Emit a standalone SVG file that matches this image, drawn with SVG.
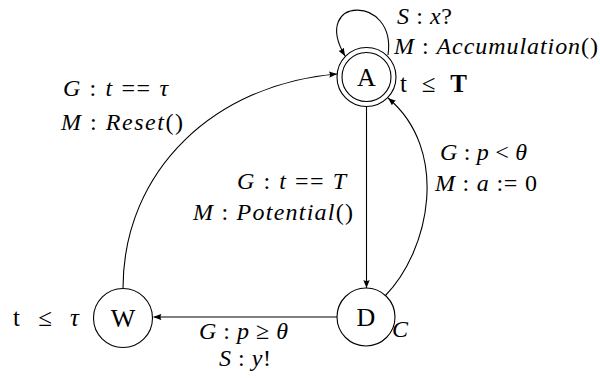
<svg xmlns="http://www.w3.org/2000/svg" width="600" height="378" viewBox="0 0 600 378">
<style>
.bg{fill:#ffffff}
.node{fill:#ffffff;stroke:#000000;stroke-width:1.1}
.edge{fill:none;stroke:#000000;stroke-width:1.1}
.lbl{font-family:"Liberation Serif",serif;font-size:24px;font-style:italic;fill:#000000}
.u{font-style:normal}
.r{font-family:"Liberation Serif",serif;font-size:25px;font-style:normal;fill:#000000}
.nl{font-family:"Liberation Serif",serif;font-size:26px;fill:#000000;text-anchor:middle}
</style>
<defs>
<marker id="arr" viewBox="0 0 10 8" refX="10" refY="4" markerWidth="8" markerHeight="6.4" markerUnits="userSpaceOnUse" orient="auto">
<path d="M0,0 L10,4 L0,8 Q2.5,4 0,0 Z" fill="#000000"/>
</marker>
</defs>
<rect class="bg" x="0" y="0" width="600" height="378"/>
<g id="connectors">
<path id="loopA" class="edge" d="M388,55 C397,-6 310,-4 345,56" marker-end="url(#arr)"/>
<path id="AtoD" class="edge" d="M366.5,106.5 L366.5,288" marker-end="url(#arr)"/>
<path id="DtoA" class="edge" d="M385,296 C430,250 450,150 388,98" marker-end="url(#arr)"/>
<path id="DtoW" class="edge" d="M337,317 L153.5,317" marker-end="url(#arr)"/>
<path id="WtoA" class="edge" d="M123,288.5 C123,170 215,84 337,74" marker-end="url(#arr)"/>
</g>
<g id="node-A">
<circle class="node" cx="366.5" cy="77" r="29.5"/>
<circle class="node" cx="366.5" cy="77" r="24.5"/>
<text class="nl" x="366.5" y="86">A</text>
</g>
<g id="node-D">
<circle class="node" cx="366" cy="317" r="29"/>
<text class="nl" x="366" y="326">D</text>
</g>
<g id="node-W">
<circle class="node" cx="123" cy="318" r="29.5"/>
<text class="nl" x="123" y="327">W</text>
</g>
<g id="labels">
<text class="lbl" x="397" y="24" textLength="55" lengthAdjust="spacing">S<tspan class="u"> : </tspan>x<tspan class="u">?</tspan></text>
<text class="lbl" x="394" y="54" textLength="204" lengthAdjust="spacing">M<tspan class="u"> : </tspan>Accumulation<tspan class="u">()</tspan></text>
<text class="r" x="400" y="92" textLength="67" lengthAdjust="spacing">t ≤ <tspan font-weight="bold">T</tspan></text>
<text class="lbl" x="63" y="96" textLength="105" lengthAdjust="spacing">G<tspan class="u"> : </tspan>t<tspan class="u"> == </tspan>τ</text>
<text class="lbl" x="61" y="130" textLength="122" lengthAdjust="spacing">M<tspan class="u"> : </tspan>Reset<tspan class="u">()</tspan></text>
<text class="lbl" x="237" y="189" textLength="109" lengthAdjust="spacing">G<tspan class="u"> : </tspan>t<tspan class="u"> == </tspan>T</text>
<text class="lbl" x="193" y="220" textLength="160" lengthAdjust="spacing">M<tspan class="u"> : </tspan>Potential<tspan class="u">()</tspan></text>
<text class="lbl" x="440" y="160" textLength="87" lengthAdjust="spacing">G<tspan class="u"> : </tspan>p<tspan class="u"> &lt; </tspan>θ</text>
<text class="lbl" x="435" y="191" textLength="102" lengthAdjust="spacing">M<tspan class="u"> : </tspan>a<tspan class="u"> := 0</tspan></text>
<text class="lbl" x="199" y="339" textLength="89" lengthAdjust="spacing">G<tspan class="u"> : </tspan>p<tspan class="u"> ≥ </tspan>θ</text>
<text class="lbl" x="219" y="366" textLength="52" lengthAdjust="spacing">S<tspan class="u"> : </tspan>y<tspan class="u">!</tspan></text>
<text class="r" x="13" y="326" textLength="66" lengthAdjust="spacing">t ≤ <tspan font-style="italic">τ</tspan></text>
<text class="lbl" x="392" y="337">C</text>
</g>
</svg>
